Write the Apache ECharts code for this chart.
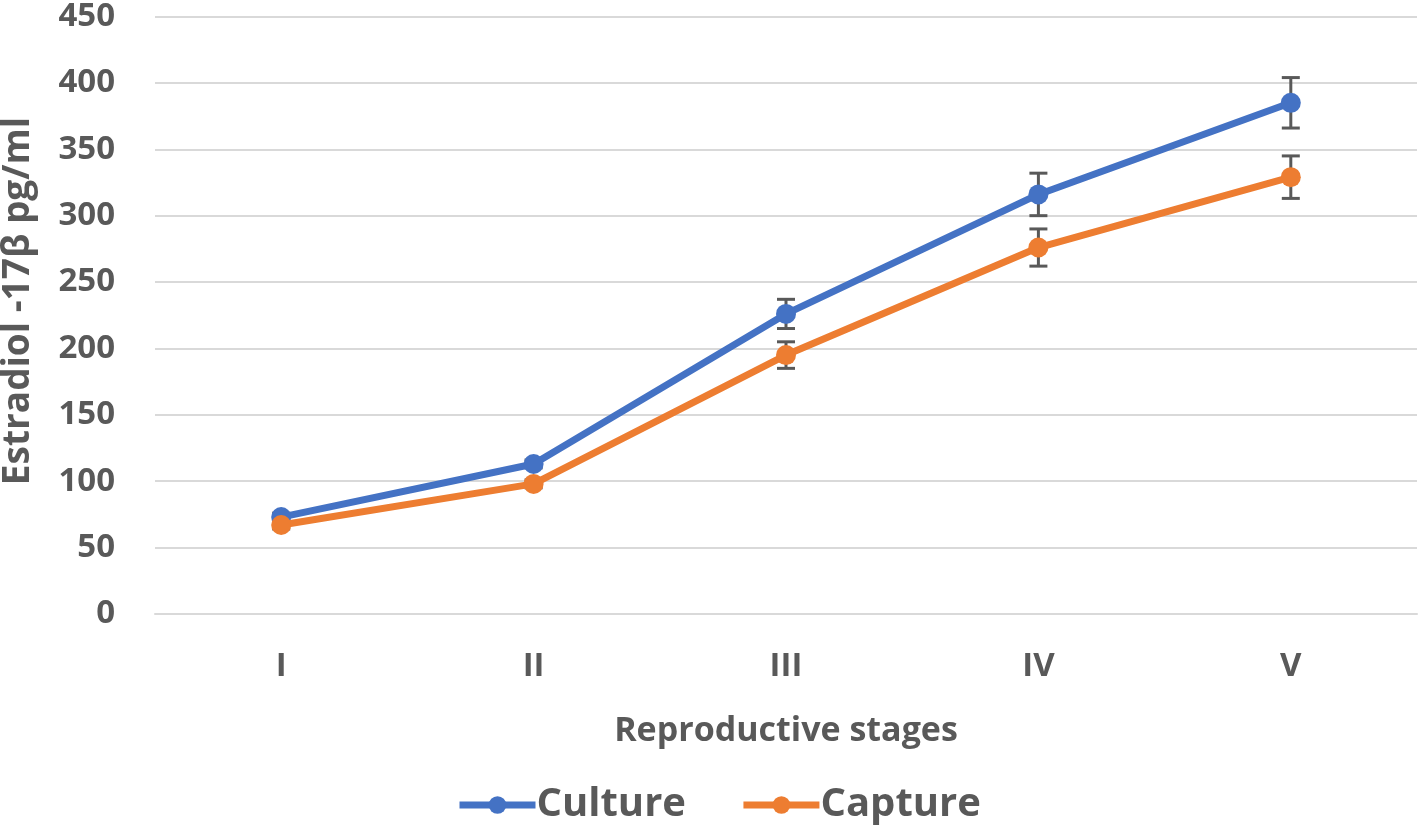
<!DOCTYPE html>
<html><head><meta charset="utf-8">
<script src="https://cdn.jsdelivr.net/npm/echarts@6/dist/echarts.min.js"></script>
<style>html,body{margin:0;padding:0;background:#fff}#c{width:1418px;height:830px}</style>
</head><body><div id="c"></div>
<script>
const categories = ['I', 'II', 'III', 'IV', 'V'];
const culture = [73, 113, 226, 316, 385];
const capture = [67, 98, 195, 276, 329];
const cultureErr = [3, 3, 11, 16, 19];
const captureErr = [3, 3, 10, 14, 16];
const yTicks = { min: 0, max: 450, interval: 50 };

const textColor = '#595959';
const fontFam = '"Open Sans", Lato, sans-serif';

function errSeries(name, vals, errs) {
  return {
    type: 'custom', name: name + ' err', z: 2,
    data: vals.map((v, i) => [i, v - errs[i], v + errs[i]]),
    renderItem: function (params, api) {
      const lo = api.coord([api.value(0), api.value(1)]);
      const hi = api.coord([api.value(0), api.value(2)]);
      const w = 9;
      const st = { stroke: '#595959', lineWidth: 3 };
      return { type: 'group', children: [
        { type: 'line', shape: { x1: hi[0], y1: hi[1], x2: lo[0], y2: lo[1] }, style: st },
        { type: 'line', shape: { x1: hi[0] - w, y1: hi[1], x2: hi[0] + w, y2: hi[1] }, style: st },
        { type: 'line', shape: { x1: lo[0] - w, y1: lo[1], x2: lo[0] + w, y2: lo[1] }, style: st }
      ]};
    },
    encode: { x: 0, y: [1, 2] }
  };
}

const chart = echarts.init(document.getElementById('c'), null, { renderer: 'canvas' });
chart.setOption({
  animation: false,
  backgroundColor: '#fff',
  grid: { left: 155, right: 1, top: 15, bottom: 216, containLabel: false },
  legend: {
    data: ['Culture', 'Capture'], bottom: 0, left: 451,
    itemWidth: 76, itemHeight: 22, itemGap: 54,
    lineStyle: { width: 7 },
    textStyle: { color: textColor, fontSize: 40, fontWeight: 'bold', fontFamily: fontFam, padding: [0, 0, 0, -4] }
  },
  graphic: [{
    type: 'text', rotation: Math.PI / 2,
    x: 18, y: 301,
    style: { text: 'Estradiol -17β pg/ml', fill: textColor, font: 'bold 37px ' + fontFam,
      textAlign: 'center', textVerticalAlign: 'middle' }
  }],
  xAxis: {
    type: 'category', data: categories, boundaryGap: true,
    axisLine: { show: true, lineStyle: { color: '#d9d9d9', width: 2 } },
    axisTick: { show: false },
    axisLabel: { color: textColor, fontSize: 33, fontWeight: 'bold', fontFamily: fontFam, margin: 36 },
    name: 'Reproductive stages', nameLocation: 'middle', nameGap: 100,
    nameTextStyle: { color: textColor, fontSize: 34, fontWeight: 'bold', fontFamily: fontFam }
  },
  yAxis: {
    type: 'value', min: yTicks.min, max: yTicks.max, interval: yTicks.interval,
    axisLine: { show: false }, axisTick: { show: false },
    splitLine: { lineStyle: { color: '#d9d9d9', width: 2 } },
    axisLabel: { color: textColor, fontSize: 33, fontWeight: 'bold', fontFamily: fontFam, margin: 40 }
  },
  series: [
    { name: 'Culture', type: 'line', data: culture, symbol: 'circle', symbolSize: 20,
      itemStyle: { color: '#4472C4' }, lineStyle: { color: '#4472C4', width: 7 }, z: 3 },
    { name: 'Capture', type: 'line', data: capture, symbol: 'circle', symbolSize: 20,
      itemStyle: { color: '#ED7D31' }, lineStyle: { color: '#ED7D31', width: 7 }, z: 4 },
    errSeries('Culture', culture, cultureErr),
    errSeries('Capture', capture, captureErr)
  ]
});
</script></body></html>
